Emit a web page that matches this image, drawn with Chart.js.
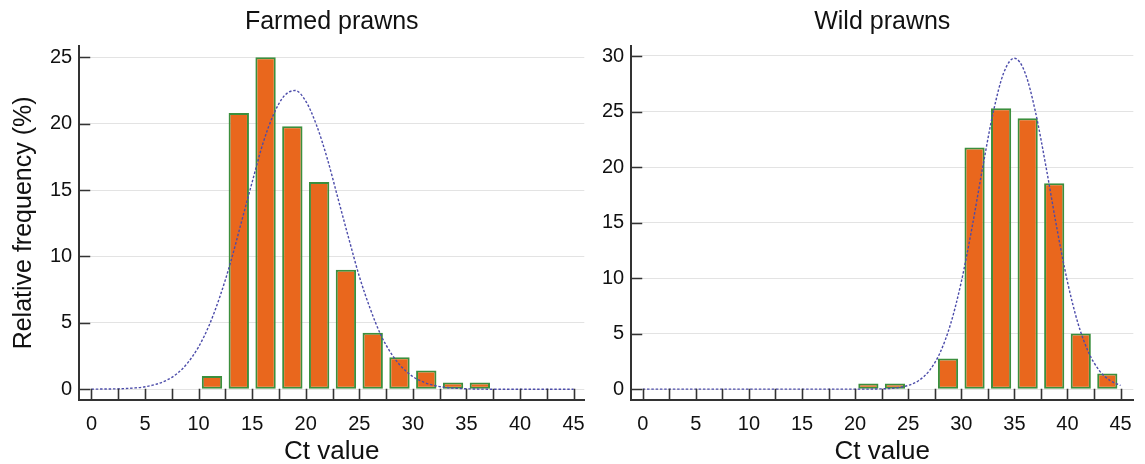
<!DOCTYPE html>
<html>
<head>
<meta charset="utf-8">
<title>Ct value distribution</title>
<script src="https://cdn.jsdelivr.net/npm/chart.js@4.4.1/dist/chart.umd.min.js"></script>
<style>
  html, body { margin: 0; padding: 0; background: #fff; }
  #wrap { position: relative; width: 1145px; height: 464px; }
  #farmed { position: absolute; left: 0; top: 0; }
  #wild { position: absolute; left: 591px; top: 0; }
</style>
</head>
<body>
<div id="wrap">
  <canvas id="farmed" width="598" height="464"></canvas>
  <canvas id="wild" width="554" height="464"></canvas>
</div>
<script>
// ---------- Data ----------
// bin midpoints (Ct value, bins of 2.5) and relative frequency (%)
const farmedBins = [11.25, 13.75, 16.25, 18.75, 21.25, 23.75, 26.25, 28.75, 31.25, 33.75, 36.25];
const farmedFreq = [1.0, 20.8, 25.0, 19.8, 15.6, 9.0, 4.25, 2.4, 1.4, 0.5, 0.5];

const wildBins = [21.25, 23.75, 28.75, 31.25, 33.75, 36.25, 38.75, 41.25, 43.75];
const wildFreq = [0.5, 0.5, 2.75, 21.75, 25.3, 24.4, 18.55, 5.0, 1.4];

// fitted curve at each whole Ct value
const curveX = [0, 1, 2, 3, 4, 5, 6, 7, 8, 9, 10, 11, 12, 13, 14, 15, 16, 17, 18, 19, 20, 21, 22,
  23, 24, 25, 26, 27, 28, 29, 30, 31, 32, 33, 34, 35, 36, 37, 38, 39, 40, 41, 42, 43, 44, 45];
const farmedCurve = [0, 0.01, 0.02, 0.04, 0.09, 0.18, 0.36, 0.67, 1.18, 2.0, 3.19, 4.84, 7.0, 9.6,
  12.6, 15.6, 18.5, 20.7, 22.1, 22.5, 21.7, 19.9, 17.4, 14.4, 11.4, 8.5, 6.1, 4.1, 2.66, 1.63, 0.95,
  0.53, 0.28, 0.14, 0.07, 0.03, 0.01, 0, 0, 0, 0, 0, 0, 0, 0, 0];
const wildCurve = [0, 0, 0, 0, 0, 0, 0, 0, 0, 0, 0, 0, 0, 0, 0, 0, 0, 0, 0, 0, 0, 0, 0.015, 0.045,
  0.13, 0.33, 0.78, 1.67, 3.28, 5.89, 9.66, 14.5, 19.9, 24.9, 28.5, 29.8, 28.5, 24.9, 19.9, 14.5,
  9.66, 5.89, 3.28, 1.67, 0.78, 0.33];

const xTicks = [0, 2.5, 5, 7.5, 10, 12.5, 15, 17.5, 20, 22.5, 25, 27.5, 30, 32.5, 35, 37.5, 40, 42.5, 45];
const farmedYTicks = [0, 5, 10, 15, 20, 25];
const wildYTicks = [0, 5, 10, 15, 20, 25, 30];

// ---------- Styles ----------
const FONT = "'Liberation Sans', Arial, Helvetica, sans-serif";
const AXIS_COLOR = '#333333';
const TEXT_COLOR = '#111111';
const GRID_COLOR = '#e3e3e3';
const BAR_FILL = '#e9671d';
const BAR_EDGE = '#3b8f3d';
const CURVE_COLOR = '#4c4caa';
const TICK_LEN = 11;

// tick marks point into the plot, so draw them ourselves
const inwardTicks = {
  id: 'inwardTicks',
  afterDraw(chart) {
    const { ctx, chartArea } = chart;
    const x = chart.scales.x;
    const y = chart.scales.y;
    ctx.save();
    ctx.strokeStyle = AXIS_COLOR;
    ctx.lineWidth = 1.6;
    ctx.beginPath();
    x.ticks.forEach((t) => {
      const px = Math.round(x.getPixelForValue(t.value)) + 0.5;
      ctx.moveTo(px, chartArea.bottom);
      ctx.lineTo(px, chartArea.bottom - TICK_LEN);
    });
    y.ticks.forEach((t) => {
      const py = Math.round(y.getPixelForValue(t.value)) + 0.5;
      ctx.moveTo(chartArea.left, py);
      ctx.lineTo(chartArea.left + TICK_LEN, py);
    });
    ctx.stroke();
    ctx.restore();
  }
};

function makeChart(id, opts) {
  const bars = opts.bins.map((b, i) => ({ x: b, y: opts.freq[i] }));
  const curve = curveX.map((v, i) => ({ x: v, y: opts.curve[i] }));

  return new Chart(document.getElementById(id), {
    type: 'bar',
    data: {
      datasets: [
        {
          type: 'line',
          data: curve,
          borderColor: CURVE_COLOR,
          borderWidth: 1.4,
          borderDash: [2.5, 1.8],
          pointRadius: 0,
          cubicInterpolationMode: 'monotone',
          fill: false,
          order: 0
        },
        {
          type: 'bar',
          data: bars,
          backgroundColor: BAR_FILL,
          borderColor: BAR_EDGE,
          borderWidth: 2,
          borderSkipped: false,
          categoryPercentage: 1.0,
          barPercentage: 0.76,
          order: 1
        }
      ]
    },
    options: {
      responsive: false,
      animation: false,
      layout: { padding: opts.padding },
      plugins: {
        legend: { display: false },
        tooltip: { enabled: false },
        title: {
          display: true,
          fullSize: false,
          text: opts.title,
          color: TEXT_COLOR,
          font: { family: FONT, size: 25, weight: 'normal' },
          padding: { top: 7, bottom: 9 }
        }
      },
      scales: {
        x: {
          type: 'linear',
          offset: false,
          min: opts.xMin,
          max: opts.xMax,
          afterBuildTicks: (scale) => { scale.ticks = xTicks.map((v) => ({ value: v })); },
          ticks: {
            autoSkip: false,
            maxRotation: 0,
            padding: 13,
            color: TEXT_COLOR,
            font: { family: FONT, size: 20 },
            callback: (v) => (v % 5 === 0 ? String(v) : '')
          },
          grid: { display: false, drawTicks: false },
          border: { display: true, color: AXIS_COLOR, width: 2 },
          title: {
            display: true,
            text: 'Ct value',
            color: TEXT_COLOR,
            font: { family: FONT, size: 26 },
            padding: { top: -14, bottom: -3 }
          }
        },
        y: {
          type: 'linear',
          min: opts.yMin,
          max: opts.yMax,
          afterBuildTicks: (scale) => { scale.ticks = opts.yTicks.map((v) => ({ value: v })); },
          ticks: {
            padding: 7,
            color: TEXT_COLOR,
            font: { family: FONT, size: 20 }
          },
          grid: { color: GRID_COLOR, lineWidth: 1, drawTicks: false },
          border: { display: true, color: AXIS_COLOR, width: 2 },
          title: {
            display: opts.yTitle !== '',
            text: opts.yTitle,
            color: TEXT_COLOR,
            font: { family: FONT, size: 25 },
            padding: { top: 4, bottom: 4 }
          }
        }
      }
    },
    plugins: [inwardTicks]
  });
}

makeChart('farmed', {
  title: 'Farmed prawns',
  bins: farmedBins,
  freq: farmedFreq,
  curve: farmedCurve,
  yTicks: farmedYTicks,
  yTitle: 'Relative frequency (%)',
  xMin: -1.14, xMax: 46.0,
  yMin: -0.8, yMax: 25.85,
  padding: { left: 5, right: 8, top: 0, bottom: 0 }
});

makeChart('wild', {
  title: 'Wild prawns',
  bins: wildBins,
  freq: wildFreq,
  curve: wildCurve,
  yTicks: wildYTicks,
  yTitle: '',
  xMin: -1.08, xMax: 46.2,
  yMin: -0.96, yMax: 30.9,
  padding: { left: 4, right: 10, top: 0, bottom: 0 }
});
</script>
</body>
</html>
